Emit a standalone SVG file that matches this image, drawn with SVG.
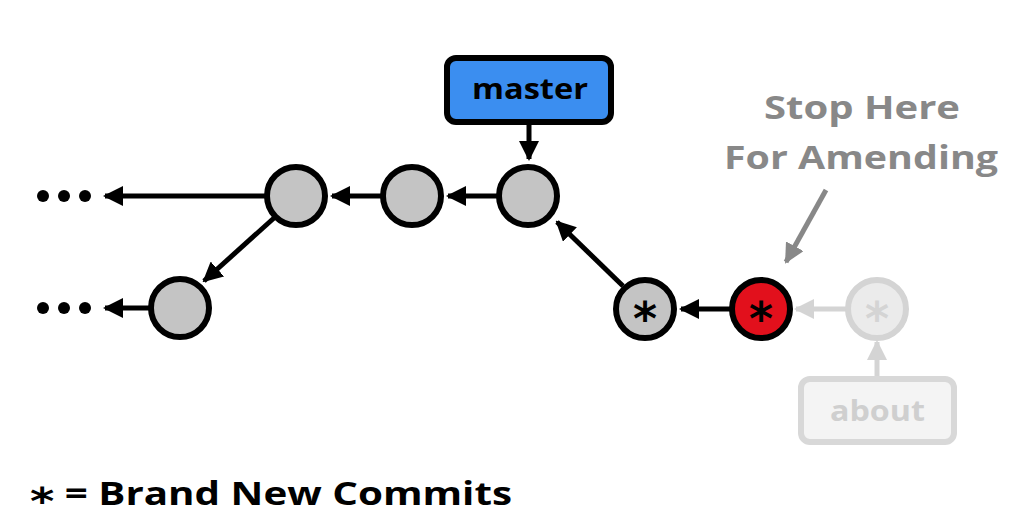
<svg xmlns="http://www.w3.org/2000/svg" width="1024" height="527" viewBox="0 0 1024 527">
<style>
.commit{fill:#c4c4c4;stroke:#000;stroke-width:6}
.ghost{fill:#ebebeb;stroke:#d4d4d4;stroke-width:6}
.edge{stroke:#000;stroke-width:5;fill:none}
.gedge{stroke:#d4d4d4;stroke-width:5;fill:none}
.t{font-family:"Open Sans",Lato,sans-serif;font-weight:700}
.star{font-family:"DejaVu Sans",sans-serif;font-weight:700;font-size:46px;text-anchor:middle}
.dot{fill:#000}
</style>
<defs>
<marker id="gah" viewBox="0 0 10 10" refX="9" refY="5" markerWidth="4" markerHeight="4" orient="auto" markerUnits="strokeWidth"><path d="M0,0 L10,5 L0,10 Z" fill="#d4d4d4"/></marker>
<marker id="bah" viewBox="0 0 10 10" refX="9" refY="5" markerWidth="4" markerHeight="4" orient="auto" markerUnits="strokeWidth"><path d="M0,0 L10,5 L0,10 Z" fill="#000"/></marker>
<marker id="yah" viewBox="0 0 10 10" refX="9" refY="5" markerWidth="4" markerHeight="4" orient="auto" markerUnits="strokeWidth"><path d="M0,0 L10,5 L0,10 Z" fill="#888"/></marker>
</defs>
<rect width="1024" height="527" fill="#fff"/>
<g id="connectors">
<line class="edge" x1="266" y1="196" x2="105" y2="196" marker-end="url(#bah)"/>
<line class="edge" x1="382" y1="196" x2="332" y2="196" marker-end="url(#bah)"/>
<line class="edge" x1="498" y1="196" x2="448" y2="196" marker-end="url(#bah)"/>
<line class="edge" x1="274" y1="218" x2="204" y2="281" marker-end="url(#bah)"/>
<line class="edge" x1="150" y1="308" x2="105" y2="308" marker-end="url(#bah)"/>
<line class="edge" x1="623" y1="286" x2="557" y2="222" marker-end="url(#bah)"/>
<line class="edge" x1="731" y1="309" x2="681" y2="309" marker-end="url(#bah)"/>
<line class="gedge" x1="846" y1="309" x2="796" y2="309" marker-end="url(#gah)"/>
<line class="edge" x1="529" y1="123" x2="529" y2="159" marker-end="url(#bah)"/>
<line class="gedge" x1="877" y1="378" x2="877" y2="342" marker-end="url(#gah)"/>
<line x1="826" y1="190" x2="786" y2="262" stroke="#888" stroke-width="5" marker-end="url(#yah)"/>
</g>
<g id="dots1"><circle class="dot" cx="43" cy="196" r="6"/><circle class="dot" cx="64" cy="196" r="6"/><circle class="dot" cx="85" cy="196" r="6"/></g>
<g id="dots2"><circle class="dot" cx="43" cy="308" r="6"/><circle class="dot" cx="64" cy="308" r="6"/><circle class="dot" cx="85" cy="308" r="6"/></g>
<g id="c1"><circle class="commit" cx="296" cy="196" r="29"/></g>
<g id="c2"><circle class="commit" cx="412" cy="196" r="29"/></g>
<g id="c3"><circle class="commit" cx="528" cy="196" r="29"/></g>
<g id="c4"><circle class="commit" cx="180" cy="308" r="29"/></g>
<g id="c5"><circle class="commit" cx="645" cy="309" r="29"/><text class="star" x="645" y="335" fill="#000">*</text></g>
<g id="c6"><circle cx="761" cy="309" r="29" fill="#e2101c" stroke="#000" stroke-width="6"/><text class="star" x="761" y="335" fill="#000">*</text></g>
<g id="c7"><circle class="ghost" cx="877" cy="309" r="29"/><text class="star" x="877" y="335" fill="#d4d4d4">*</text></g>
<g id="master"><rect x="447" y="58" width="164" height="64" rx="9" fill="#3b8ef0" stroke="#000" stroke-width="6"/><text class="t" x="472" y="99" font-size="28" textLength="116" lengthAdjust="spacingAndGlyphs" fill="#000">master</text></g>
<g id="about"><rect x="801" y="379" width="153" height="63" rx="9" fill="#f4f4f4" stroke="#d8d8d8" stroke-width="6"/><text class="t" x="830" y="421" font-size="28" textLength="95" lengthAdjust="spacingAndGlyphs" fill="#cfcfcf">about</text></g>
<g id="note"><text class="t" x="764" y="119" font-size="32" textLength="196" lengthAdjust="spacingAndGlyphs" fill="#888">Stop Here</text><text class="t" x="724" y="169" font-size="32" textLength="274" lengthAdjust="spacingAndGlyphs" fill="#888">For Amending</text></g>
<g id="legend"><text class="t" x="30" y="505" font-size="33" textLength="482" lengthAdjust="spacingAndGlyphs" fill="#000"><tspan font-family="DejaVu Sans" font-size="38" dy="9">*</tspan><tspan dy="-9"> = Brand New Commits</tspan></text></g>
</svg>
